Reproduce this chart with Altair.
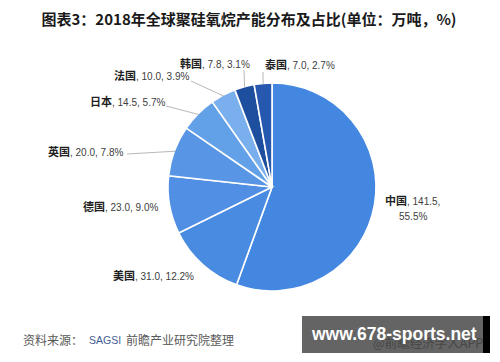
import math
import altair as alt
import pandas as pd

# ---------------- data ----------------
countries = ["中国", "美国", "德国", "英国", "日本", "法国", "韩国", "泰国"]
values = [141.5, 31.0, 23.0, 20.0, 14.5, 10.0, 7.8, 7.0]
pcts = [55.5, 12.2, 9.0, 7.8, 5.7, 3.9, 3.1, 2.7]

title_text = "图表3：2018年全球聚硅氧烷产能分布及占比(单位：万吨，%)"

# ---------------- style / layout (page pixels) ----------------
colors = ["#4387e1", "#4a8be2", "#508fe3", "#5896e5", "#62a0e8", "#7aafee", "#1d4f9e", "#2558ae"]
CX, CY, R = 272, 187, 104
name_end_x = [407, 135, 105, 70, 112, 136, 202, 287]
label_y = [202, 277, 208, 153, 103, 77, 65, 66]
leader_end = {"英国": (127, 154), "日本": (166, 106), "法国": (191, 81),
              "韩国": (244, 70), "泰国": (263, 72)}
M = 8  # page margin

total = sum(values)
rows = []
acc = 0.0
for i, (c, v, p) in enumerate(zip(countries, values, pcts)):
    t0 = acc / total * 2 * math.pi
    acc += v
    t1 = acc / total * 2 * math.pi
    mid = (t0 + t1) / 2
    if c == "中国":
        rest1 = f", {v:.1f},"
        rest2 = f"{p:.1f}%"
    else:
        rest1 = f", {v:.1f}, {p:.1f}%"
        rest2 = ""
    rows.append(dict(country=c, value=v, pct=p, idx=i, t0=t0, t1=t1,
                     ex=CX + (R - 1) * math.sin(mid), ey=CY - (R - 1) * math.cos(mid),
                     nx=name_end_x[i], ly=label_y[i], rest1=rest1, rest2=rest2))
df = pd.DataFrame(rows)

lines = df[df["country"].isin(list(leader_end))].copy()
lines["lx"] = [leader_end[c][0] for c in lines["country"]]
lines["lyy"] = [leader_end[c][1] for c in lines["country"]]

xs = alt.Scale(domain=[M, 500 - M], nice=False, zero=False)
ys = alt.Scale(domain=[M, 362 - M], nice=False, zero=False, reverse=True)

arc = alt.Chart(df).mark_arc(radius=R, stroke="white", strokeWidth=1.6).encode(
    theta=alt.Theta("t0:Q", scale=None),
    theta2="t1:Q",
    color=alt.Color("country:N", scale=alt.Scale(domain=countries, range=colors), legend=None),
    x=alt.value(CX - M),
    y=alt.value(CY - M),
)

rules = alt.Chart(lines).mark_rule(color="#a6a6a6", strokeWidth=0.8).encode(
    x=alt.X("ex:Q", scale=xs, axis=None),
    y=alt.Y("ey:Q", scale=ys, axis=None),
    x2="lx:Q",
    y2="lyy:Q",
)

names = alt.Chart(df).mark_text(
    align="right", baseline="middle", font="Noto Sans CJK SC", fontWeight="bold",
    fontSize=11, color="#1f1f1f"
).encode(
    x=alt.X("nx:Q", scale=xs, axis=None),
    y=alt.Y("ly:Q", scale=ys, axis=None),
    text="country:N",
)

rest = alt.Chart(df).mark_text(
    align="left", baseline="middle", font="Liberation Sans", fontSize=10, color="#404040"
).encode(
    x=alt.X("nx:Q", scale=xs, axis=None),
    y=alt.Y("ly:Q", scale=ys, axis=None),
    text="rest1:N",
)

line2 = alt.Chart(df[df["rest2"] != ""]).mark_text(
    align="left", baseline="middle", font="Liberation Sans", fontSize=10, color="#404040",
    dx=-8, dy=15
).encode(
    x=alt.X("nx:Q", scale=xs, axis=None),
    y=alt.Y("ly:Q", scale=ys, axis=None),
    text="rest2:N",
)

title = alt.Chart(pd.DataFrame({"t": [title_text]})).mark_text(
    align="center", baseline="middle", font="Noto Sans CJK SC", fontWeight="bold",
    fontSize=15, color="#1a1a1a"
).encode(x=alt.value(249 - M), y=alt.value(20 - M), text="t:N")

src1 = alt.Chart(pd.DataFrame({"t": ["资料来源："]})).mark_text(
    align="left", baseline="middle", font="Noto Sans CJK SC", fontSize=12, color="#595959"
).encode(x=alt.value(23 - M), y=alt.value(341 - M), text="t:N")
src2 = alt.Chart(pd.DataFrame({"t": ["SAGSI"]})).mark_text(
    align="left", baseline="middle", font="Liberation Sans", fontSize=10.5, color="#3f5b94"
).encode(x=alt.value(89 - M), y=alt.value(341 - M), text="t:N")
src3 = alt.Chart(pd.DataFrame({"t": ["前瞻产业研究院整理"]})).mark_text(
    align="left", baseline="middle", font="Noto Sans CJK SC", fontSize=12, color="#595959"
).encode(x=alt.value(126 - M), y=alt.value(341 - M), text="t:N")

box = alt.Chart(pd.DataFrame({"a": [0]})).mark_rect(color="#646464").encode(
    x=alt.value(302 - M), x2=alt.value(483 - M), y=alt.value(316 - M), y2=alt.value(353 - M))
strip = alt.Chart(pd.DataFrame({"a": [0]})).mark_rect(color="#000000").encode(
    x=alt.value(483 - M), x2=alt.value(490 - M), y=alt.value(316 - M), y2=alt.value(353 - M))
wm_small = alt.Chart(pd.DataFrame({"t": ["@前瞻经济学人APP"]})).mark_text(
    align="left", baseline="middle", font="Noto Sans CJK SC", fontSize=12.5, color="#474747"
).encode(x=alt.value(373 - M), y=alt.value(344 - M), text="t:N")
wm = alt.Chart(pd.DataFrame({"t": ["www.678-sports.net"]})).mark_text(
    align="left", baseline="middle", font="Liberation Sans", fontWeight="bold",
    fontSize=17.5, color="#ffffff"
).encode(x=alt.value(312 - M), y=alt.value(335 - M), text="t:N")

chart = alt.layer(
    arc, rules, names, rest, line2, title, src1, src2, src3, box, strip, wm_small, wm
).properties(
    width=500 - 2 * M, height=362 - 2 * M, padding=0, autosize="none"
).configure_view(stroke=None)

chart.save("out.html", embed_options={"renderer": "svg", "actions": False})
